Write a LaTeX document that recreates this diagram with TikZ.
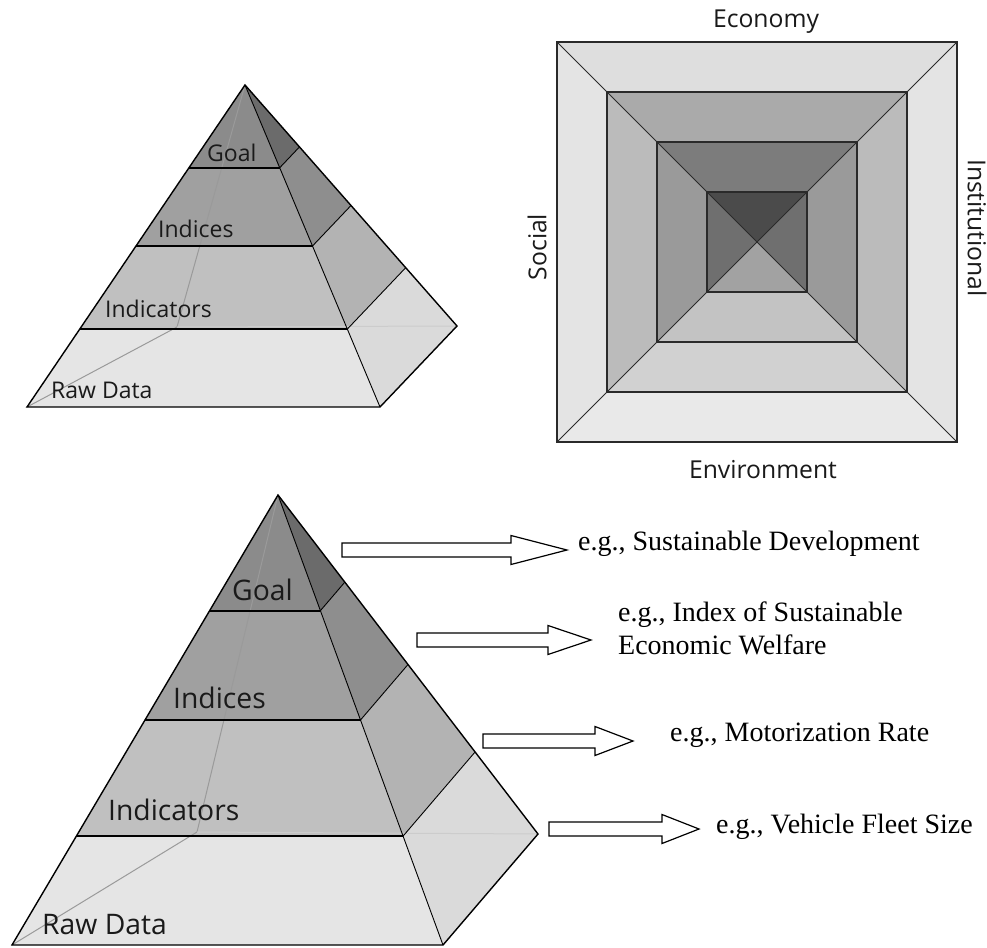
\documentclass[tikz,border=0pt]{standalone}
\usepackage{fontspec}
\setmainfont{Liberation Serif}
\newfontfamily\labfont{Open Sans}
\usetikzlibrary{calc}
\definecolor{fgA}{HTML}{8B8B8B}
\definecolor{fgB}{HTML}{A0A0A0}
\definecolor{fgC}{HTML}{C0C0C0}
\definecolor{fgD}{HTML}{E5E5E5}
\definecolor{rgA}{HTML}{6B6B6B}
\definecolor{rgB}{HTML}{8E8E8E}
\definecolor{rgC}{HTML}{B3B3B3}
\definecolor{rgD}{HTML}{DADADA}
\definecolor{hidgray}{HTML}{9A9A9A}
\definecolor{sqline}{HTML}{2A2A2A}
\definecolor{oT}{HTML}{DEDEDE}\definecolor{oS}{HTML}{E4E4E4}\definecolor{oB}{HTML}{E9E9E9}
\definecolor{tT}{HTML}{AAAAAA}\definecolor{tS}{HTML}{BBBBBB}\definecolor{tB}{HTML}{D1D1D1}
\definecolor{hT}{HTML}{7C7C7C}\definecolor{hS}{HTML}{9A9A9A}\definecolor{hB}{HTML}{C3C3C3}
\definecolor{iT}{HTML}{4B4B4B}\definecolor{iS}{HTML}{6F6F6F}\definecolor{iB}{HTML}{A2A2A2}
\definecolor{txtdark}{HTML}{1A1A1A}

\newcommand\pyramid[6]{%
  \coordinate (#1A) at #2; \coordinate (#1L) at #3; \coordinate (#1F) at #4;
  \coordinate (#1R) at #5; \coordinate (#1H) at #6;
  \foreach \n/\fr in {1/0.257,2/0.5,3/0.758}{
    \coordinate (#1L\n) at ($(#1A)!\fr!(#1L)$);
    \coordinate (#1F\n) at ($(#1A)!\fr!(#1F)$);
    \coordinate (#1R\n) at ($(#1A)!\fr!(#1R)$);
  }
  \fill[fgA] (#1A) -- (#1F1) -- (#1L1) -- cycle;
  \fill[fgB] (#1L1) -- (#1F1) -- (#1F2) -- (#1L2) -- cycle;
  \fill[fgC] (#1L2) -- (#1F2) -- (#1F3) -- (#1L3) -- cycle;
  \fill[fgD] (#1L3) -- (#1F3) -- (#1F) -- (#1L) -- cycle;
  \fill[rgA] (#1A) -- (#1R1) -- (#1F1) -- cycle;
  \fill[rgB] (#1F1) -- (#1R1) -- (#1R2) -- (#1F2) -- cycle;
  \fill[rgC] (#1F2) -- (#1R2) -- (#1R3) -- (#1F3) -- cycle;
  \fill[rgD] (#1F3) -- (#1R3) -- (#1R) -- (#1F) -- cycle;
  \draw[hidline] (#1A) -- (#1H) -- (#1L);
  \draw[hidline, draw=hidgray!50] (#1H) -- (#1R);
  \foreach \n in {1,2,3}{
    \draw[levline] (#1L\n) -- (#1F\n);
    \draw[sideline] (#1F\n) -- (#1R\n);
  }
  \draw[sideline] (#1A) -- (#1F);
  \draw[outline] (#1A) -- (#1L) -- (#1F) -- (#1R) -- cycle;
}
\newcommand\blockarrow[5]{% name, x0, xbase, xtip, yc
  \coordinate (#1s) at ({#2},{#5});
  \coordinate (#1t) at ({#4},{#5});
  \draw[barrow] ({#2},{#5-7}) -- ({#3},{#5-7}) -- ({#3},{#5-14.5}) -- (#1t)
    -- ({#3},{#5+14.5}) -- ({#3},{#5+7}) -- ({#2},{#5+7}) -- cycle;
}

\begin{document}
\begin{tikzpicture}[x=1pt,y=-1pt,
  hidline/.style={draw=hidgray, line width=1pt},
  levline/.style={draw=black, line width=1.8pt},
  sideline/.style={draw=black, line width=0.9pt},
  outline/.style={draw=black, line width=1.4pt, line join=miter},
  sqdraw/.style={draw=sqline, line width=1.1pt},
  barrow/.style={draw=black, line width=1.2pt, fill=white, line join=miter},
  labsmall/.style={font=\labfont\fontsize{23}{27}\selectfont, text=txtdark, inner sep=0pt, anchor=base west},
  labbig/.style={font=\labfont\fontsize{28.3}{32}\selectfont, text=txtdark, inner sep=0pt, anchor=base west},
  sqlab/.style={font=\labfont\fontsize{24.7}{28}\selectfont, text=txtdark, inner sep=0pt},
  ser/.style={font=\fontsize{28}{33}\selectfont, text=black, inner sep=0pt, anchor=base west}
]
\useasboundingbox (0,0) rectangle (987,947);
\fill[white] (0,0) rectangle (987,947);

% ---------- upper pyramid ----------
\pyramid{p}{(245,85)}{(27,407)}{(380,407)}{(457,326)}{(177,327)}
\node[labsmall] (pgoal) at (207,161) {Goal};
\node[labsmall] (pind) at (158,237) {Indices};
\node[labsmall] (pindic) at (105,317) {Indicators};
\node[labsmall] (praw) at (51,398) {Raw Data};

% ---------- square ----------
\coordinate (C) at (757,242);
\foreach \a/\b/\ct/\cs/\cb in {200/150/oT/oS/oB,150/100/tT/tS/tB,100/50/hT/hS/hB,50/0/iT/iS/iB}{
  \fill[\ct] ($(C)+(-\a,-\a)$) -- ($(C)+(\a,-\a)$) -- ($(C)+(\b,-\b)$) -- ($(C)+(-\b,-\b)$) -- cycle;
  \fill[\cs] ($(C)+(-\a,-\a)$) -- ($(C)+(-\b,-\b)$) -- ($(C)+(-\b,\b)$) -- ($(C)+(-\a,\a)$) -- cycle;
  \fill[\cs] ($(C)+(\a,-\a)$) -- ($(C)+(\b,-\b)$) -- ($(C)+(\b,\b)$) -- ($(C)+(\a,\a)$) -- cycle;
  \fill[\cb] ($(C)+(-\a,\a)$) -- ($(C)+(\a,\a)$) -- ($(C)+(\b,\b)$) -- ($(C)+(-\b,\b)$) -- cycle;
}
\foreach \a in {200,150,100,50}{
  \draw[sqdraw] ($(C)+(-\a,-\a)$) rectangle ($(C)+(\a,\a)$);
}
\draw[sqdraw, line width=0.9pt] ($(C)+(-200,-200)$) -- ($(C)+(200,200)$);
\draw[sqdraw, line width=0.9pt] ($(C)+(200,-200)$) -- ($(C)+(-200,200)$);
\node[sqlab, anchor=base] (econ) at (766,28) {Economy};
\node[sqlab, anchor=base] (envi) at (763,478) {Environment};
\node[sqlab, rotate=90] (soc) at (537,247) {Social};
\node[sqlab, rotate=-90] (inst) at (977,228) {Institutional};

% ---------- lower pyramid ----------
\pyramid{q}{(278,495)}{(12,945)}{(443,945)}{(538,834)}{(197,832)}
\node[labbig] (qgoal) at (232,600) {Goal};
\node[labbig] (qind) at (173,708) {Indices};
\node[labbig] (qindic) at (108,820) {Indicators};
\node[labbig] (qraw) at (42,934) {Raw Data};

% ---------- arrows and examples ----------
\blockarrow{a1}{342}{511}{567}{550}
\blockarrow{a2}{417}{548}{591}{640}
\blockarrow{a3}{483}{595}{633}{741}
\blockarrow{a4}{549}{662}{699}{829}
\node[ser] (e1) at (578,550) {e.g., Sustainable Development};
\node[ser, anchor=north west, align=left] (e2) at (618,602) {e.g., Index of Sustainable\\Economic Welfare};
\node[ser] (e3) at (670,741) {e.g., Motorization Rate};
\node[ser] (e4) at (716,833) {e.g., Vehicle Fleet Size};
\end{tikzpicture}
\end{document}
